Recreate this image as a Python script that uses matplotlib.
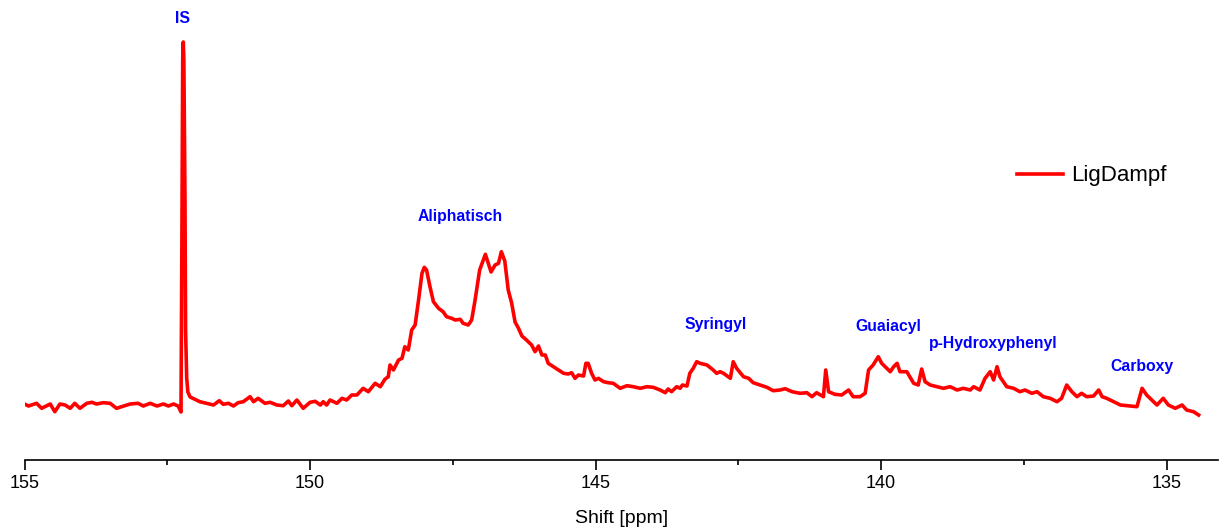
import matplotlib
matplotlib.use("Agg")
import matplotlib.pyplot as plt
from matplotlib.ticker import MultipleLocator

# =================== DATA =====================
# Chemical shift (ppm) and intensity (a.u.), high ppm -> low ppm
SHIFT_PPM = [
	# baseline before internal standard
	154.99, 154.93, 154.79, 154.70, 154.55, 154.47, 154.38, 154.29, 154.20, 154.12,
	154.03, 153.91, 153.82, 153.74, 153.62, 153.50, 153.39, 153.30, 153.15, 153.01,
	152.92, 152.80, 152.68, 152.57, 152.48, 152.39, 152.31, 152.26,
	# internal standard peak
	152.245, 152.23, 152.22, 152.21, 152.19, 152.18, 152.16, 152.14, 152.10,
	# baseline towards the aliphatic hump
	151.93, 151.81, 151.69, 151.59, 151.52, 151.43, 151.34, 151.26, 151.17, 151.05,
	150.99, 150.91, 150.79, 150.70, 150.58, 150.47, 150.38, 150.32, 150.23, 150.12,
	150.00, 149.91, 149.82, 149.77, 149.71, 149.65, 149.53, 149.44, 149.36, 149.27,
	149.18, 149.07, 148.98, 148.86, 148.77, 148.69, 148.63, 148.60, 148.54, 148.45,
	148.39, 148.34, 148.28, 148.22, 148.16, 148.10,
	# aliphatic OH double peak
	148.04, 148.00, 147.96, 147.90, 147.84, 147.75, 147.67, 147.61, 147.52, 147.46,
	147.37, 147.32, 147.23, 147.17, 147.11, 147.03, 146.93, 146.83, 146.76, 146.70,
	146.65, 146.59, 146.53, 146.47, 146.41, 146.35, 146.29, 146.21, 146.12, 146.06,
	146.00, 145.94, 145.88, 145.83, 145.74, 145.65, 145.56, 145.48, 145.42, 145.36,
	145.30, 145.21, 145.17, 145.13, 145.07, 145.01, 144.95, 144.86, 144.78, 144.69,
	144.57, 144.45, 144.34, 144.22, 144.10, 143.99, 143.87, 143.78, 143.73, 143.67,
	143.58, 143.52, 143.48, 143.40,
	# syringyl
	143.35, 143.29, 143.23, 143.17, 143.05, 142.94, 142.88, 142.82, 142.76, 142.64,
	142.59, 142.53, 142.41, 142.32, 142.24, 142.12, 142.00, 141.89, 141.77, 141.68,
	141.56, 141.42, 141.30, 141.21, 141.13, 141.01, 140.97, 140.92, 140.81, 140.69,
	140.57, 140.49, 140.37, 140.28,
	# guaiacyl
	140.22, 140.14, 140.05, 139.99, 139.90, 139.84, 139.78, 139.72, 139.67, 139.55,
	139.43, 139.35, 139.29, 139.23, 139.14, 139.02, 138.91, 138.79, 138.67, 138.56,
	138.44, 138.38, 138.27,
	# p-hydroxyphenyl and carboxy
	138.18, 138.09, 138.03, 137.97, 137.92, 137.80, 137.68, 137.57, 137.48, 137.36,
	137.27, 137.16, 137.04, 136.92, 136.84, 136.75, 136.66, 136.57, 136.49, 136.40,
	136.28, 136.19, 136.13, 136.05, 135.93, 135.81, 135.64, 135.52, 135.43, 135.35,
	135.26, 135.17, 135.06, 134.97, 134.85, 134.73, 134.65, 134.53, 134.44,
]
INTENSITY = [
	5.7, 4.0, 6.7, 1.7, 6.0, -1.7, 6.0, 5.0, 1.7, 6.7,
	1.7, 6.7, 7.7, 6.0, 7.3, 6.7, 1.7, 3.3, 6.0, 6.7,
	4.0, 6.7, 4.0, 6.0, 4.0, 6.0, 4.0, -2.0,
	160.0, 350.0, 368.0, 350.0, 210.0, 80.0, 32.0, 18.0, 13.0,
	8.3, 6.7, 5.0, 9.3, 5.7, 6.7, 4.0, 7.3, 8.3, 13.3,
	8.3, 11.7, 6.7, 7.7, 5.0, 4.3, 9.0, 4.3, 10.0, 1.7,
	7.7, 8.7, 5.0, 8.3, 5.0, 10.0, 6.7, 11.7, 10.0, 15.0,
	15.0, 21.7, 18.3, 26.7, 23.3, 30.7, 33.3, 45.0, 40.0, 50.0,
	51.7, 63.3, 60.0, 80.0, 85.0, 110.0,
	136.7, 142.7, 140.0, 123.3, 108.3, 101.7, 98.3, 93.3, 91.7, 90.0,
	90.7, 86.7, 85.0, 90.0, 110.0, 140.0, 155.7, 138.0, 145.0, 146.7,
	158.3, 149.0, 120.0, 107.0, 88.0, 81.7, 74.0, 70.0, 65.0, 58.3,
	64.0, 55.0, 55.0, 46.7, 43.3, 40.0, 36.7, 36.0, 37.3, 31.7,
	35.0, 34.0, 46.7, 46.7, 36.7, 30.0, 31.7, 28.3, 27.3, 26.7,
	21.7, 24.3, 23.3, 21.7, 23.3, 22.7, 20.0, 17.3, 21.0, 18.3,
	23.3, 21.7, 25.0, 24.0,
	36.7, 41.7, 48.3, 46.7, 45.0, 40.0, 36.7, 38.3, 36.7, 31.7,
	48.3, 41.7, 33.3, 31.7, 27.3, 25.0, 22.7, 19.3, 20.0, 21.3,
	18.3, 16.7, 17.3, 13.3, 17.3, 13.3, 40.0, 18.3, 15.7, 15.0,
	20.0, 13.3, 13.3, 16.7,
	40.0, 45.0, 53.3, 46.7, 41.7, 38.3, 43.3, 46.7, 38.3, 38.3,
	26.7, 25.0, 41.0, 28.3, 25.0, 23.3, 21.7, 23.3, 20.0, 21.7,
	20.0, 23.3, 20.0,
	31.7, 38.3, 30.0, 43.3, 33.3, 23.3, 21.7, 18.3, 20.0, 16.7,
	18.3, 13.3, 11.7, 8.3, 11.7, 25.0, 18.3, 13.3, 16.7, 13.3,
	14.0, 20.0, 13.3, 11.7, 8.3, 5.0, 4.0, 3.3, 21.7, 15.0,
	10.0, 5.0, 11.7, 5.0, 1.7, 5.0, 0.0, -1.7, -5.0,
]
SERIES_LABEL = "LigDampf"
# Peak-region labels: (text, ppm, intensity position)
PEAK_LABELS = [
	("IS", 152.24, 392),
	("Aliphatisch", 147.37, 194),
	("Syringyl", 142.89, 86),
	("Guaiacyl", 139.88, 84),
	("p-Hydroxyphenyl", 138.04, 67),
	("Carboxy", 135.43, 44),
]
X_TICKS = [155, 150, 145, 140, 135]

LINE_COLOR = "#FF0000"
LABEL_COLOR = "#0000FF"


def make_plot(output_path: str) -> None:
	plt.rcParams["font.family"] = ["Liberation Sans", "DejaVu Sans"]
	fig = plt.figure(figsize=(12.2, 5.31), dpi=100)
	ax = fig.add_axes([0.0201, 0.1337, 0.9783, 0.8663])

	ax.plot(SHIFT_PPM, INTENSITY, color=LINE_COLOR, linewidth=2.6,
		solid_joinstyle="round", label=SERIES_LABEL)

	for text, ppm, y in PEAK_LABELS:
		ax.text(ppm, y, text, color=LABEL_COLOR, fontsize=11.3,
			fontweight="bold", ha="center", va="center")

	ax.set_xlim(155, 134.1)
	ax.set_ylim(-50, 410)

	# only the bottom axis is drawn
	for side in ("left", "right", "top"):
		ax.spines[side].set_visible(False)
	ax.spines["bottom"].set_linewidth(1.2)
	ax.set_yticks([])
	ax.set_xticks(X_TICKS)
	ax.xaxis.set_minor_locator(MultipleLocator(2.5))
	ax.tick_params(axis="x", which="major", length=7, width=1.2, pad=4,
		labelsize=13)
	ax.tick_params(axis="x", which="minor", length=3.5, width=1.2)
	ax.set_xlabel("Shift [ppm]", fontsize=14, labelpad=13)

	ax.legend(loc="center left", bbox_to_anchor=(1017 / 1220, 1 - 176 / 531),
		bbox_transform=fig.transFigure, frameon=False, fontsize=16,
		handlelength=2.05, handletextpad=0.4, borderpad=0, borderaxespad=0)

	fig.savefig(output_path, dpi=100)
	plt.close(fig)


def main() -> None:
	make_plot("out.png")


if __name__ == "__main__":
	main()
